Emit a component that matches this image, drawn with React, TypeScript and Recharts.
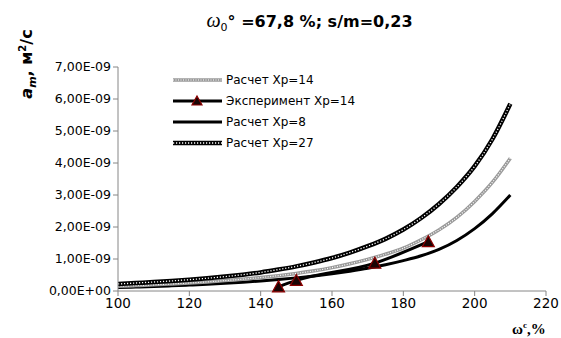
import React from 'react';
import { LineChart, Line, XAxis, YAxis } from 'recharts';

// x values (ω^c, %) for the calculated curves
const xCalc = [100, 105, 110, 115, 120, 125, 130, 135, 140, 145, 150, 155, 160, 165, 170, 175, 180, 185, 190, 195, 200, 205, 210];
// a_m values in units of 1E-09 m²/s
const raschet8 = [0.11, 0.125, 0.143, 0.163, 0.186, 0.212, 0.242, 0.276, 0.315, 0.36, 0.41, 0.47, 0.54, 0.62, 0.71, 0.82, 0.95, 1.1, 1.3, 1.58, 1.95, 2.42, 3.0];
const raschet14 = [0.15, 0.17, 0.193, 0.22, 0.25, 0.285, 0.325, 0.37, 0.42, 0.48, 0.55, 0.63, 0.73, 0.85, 0.99, 1.15, 1.34, 1.6, 1.91, 2.3, 2.8, 3.4, 4.15];
const raschet27 = [0.22, 0.25, 0.28, 0.315, 0.355, 0.4, 0.45, 0.51, 0.58, 0.67, 0.77, 0.89, 1.03, 1.2, 1.4, 1.63, 1.92, 2.28, 2.72, 3.25, 3.9, 4.75, 5.85];
const expX = [145, 150, 172, 187];
const expY = [0.13, 0.33, 0.87, 1.54];

const xTicks = [100, 120, 140, 160, 180, 200, 220];
const yTicks = [0, 1, 2, 3, 4, 5, 6, 7];
const legendLabels = ['Расчет Хр=14', 'Эксперимент Хр=14', 'Расчет Хр=8', 'Расчет Хр=27'];

const calcData = xCalc.map((x, i) => ({ x, p8: raschet8[i], p14: raschet14[i], p27: raschet27[i] }));
const expData = expX.map((x, i) => ({ x, e: expY[i] }));

const fmtY = (v: number) => (v === 0 ? '0,00E+00' : v.toFixed(2).replace('.', ',') + 'E-09');

const Triangle = (props: any) => {
  const { cx, cy, index } = props;
  if (cx == null || cy == null) return null;
  return (
    <path
      key={`tri-${index}`}
      d={`M${cx},${cy - 6} L${cx + 6},${cy + 5} L${cx - 6},${cy + 5} Z`}
      fill="#1a0505"
      stroke="#8b0000"
      strokeWidth={1.2}
    />
  );
};

const LegendBox = () => {
  const rowH = 21;
  return (
    <div style={{ position: 'absolute', left: 170, top: 72, width: 200, height: 90, fontFamily: 'DejaVu Sans', fontSize: 12, color: '#000' }}>
      {legendLabels.map((label, i) => (
        <div key={label} style={{ position: 'absolute', left: 0, top: i * rowH, height: 16, display: 'flex', alignItems: 'center', whiteSpace: 'nowrap' }}>
          <svg width={54} height={16} style={{ display: 'block' }}>
            {i === 0 && (
              <>
                <line x1={3} y1={8} x2={52} y2={8} stroke="#9a9a9a" strokeWidth={3.5} />
                <line x1={3} y1={8} x2={52} y2={8} stroke="#ffffff" strokeWidth={1.2} strokeDasharray="1 1.5" />
              </>
            )}
            {i === 1 && (
              <>
                <line x1={3} y1={8} x2={52} y2={8} stroke="#000" strokeWidth={3} />
                <path d="M27,3 L32,12 L22,12 Z" fill="#1a0505" stroke="#8b0000" strokeWidth={1.2} />
              </>
            )}
            {i === 2 && <line x1={3} y1={8} x2={52} y2={8} stroke="#000" strokeWidth={3} />}
            {i === 3 && (
              <>
                <line x1={3} y1={8} x2={52} y2={8} stroke="#000" strokeWidth={4.5} />
                <line x1={3} y1={8} x2={52} y2={8} stroke="#ffffff" strokeWidth={1.3} strokeDasharray="1.2 1.8" />
              </>
            )}
          </svg>
          <span style={{ marginLeft: 2 }}>{label}</span>
        </div>
      ))}
    </div>
  );
};

export default function App() {
  return (
    <div style={{ position: 'absolute', left: 0, top: 0, width: 561, height: 338, background: '#fff', overflow: 'hidden' }}>
      <LineChart width={561} height={338} margin={{ top: 67, right: 15, bottom: 0, left: 0 }}>
        <XAxis
          type="number"
          dataKey="x"
          domain={[100, 220]}
          ticks={xTicks}
          interval={0}
          allowDataOverflow
          height={47}
          stroke="#868686"
          tickSize={5}
          tick={{ fontFamily: 'DejaVu Sans', fontSize: 13.5, fill: '#000' }}
        />
        <YAxis
          type="number"
          domain={[0, 7]}
          ticks={yTicks}
          interval={0}
          width={118}
          stroke="#868686"
          tickSize={5}
          tickFormatter={fmtY}
          tick={{ fontFamily: 'DejaVu Sans', fontSize: 12.5, fill: '#000' }}
        />
        <Line data={calcData} dataKey="p8" type="monotone" stroke="#000" strokeWidth={3} dot={false} isAnimationActive={false} />
        <Line data={calcData} dataKey="p14" type="monotone" stroke="#9a9a9a" strokeWidth={3.5} dot={false} isAnimationActive={false} />
        <Line data={calcData} dataKey="p14" type="monotone" stroke="#ffffff" strokeWidth={1.2} strokeDasharray="1 1.5" dot={false} isAnimationActive={false} />
        <Line data={expData} dataKey="e" type="monotone" stroke="#000" strokeWidth={3} dot={<Triangle />} isAnimationActive={false} />
        <Line data={calcData} dataKey="p27" type="monotone" stroke="#000" strokeWidth={4.5} dot={false} isAnimationActive={false} />
        <Line data={calcData} dataKey="p27" type="monotone" stroke="#ffffff" strokeWidth={1.3} strokeDasharray="1.2 1.8" dot={false} isAnimationActive={false} />
      </LineChart>
      <LegendBox />
      <div style={{ position: 'absolute', left: 0, width: 561, top: 9, textAlign: 'center', paddingLeft: 58, boxSizing: 'border-box', fontFamily: 'DejaVu Sans', fontWeight: 'bold', fontSize: 16 }}>
        <span style={{ fontFamily: 'Liberation Serif', fontStyle: 'italic', fontWeight: 'normal', fontSize: 20 }}>ω</span>
        <sub style={{ fontSize: 11, fontWeight: 'normal' }}>0</sub>° =67,8 %; s/m=0,23
      </div>
      <div style={{ position: 'absolute', left: 28, top: 64, width: 0, height: 0 }}>
        <div style={{ position: 'absolute', left: 0, top: 0, transform: 'translate(-50%, -50%) rotate(-90deg)', whiteSpace: 'nowrap', fontFamily: 'DejaVu Sans', fontWeight: 'bold', fontSize: 16 }}>
          <span style={{ fontStyle: 'italic' }}>a</span><sub style={{ fontSize: 11, fontStyle: 'italic' }}>m</sub>, м<sup style={{ fontSize: 10 }}>2</sup>/с
        </div>
      </div>
      <div style={{ position: 'absolute', left: 512, top: 320, fontFamily: 'Liberation Serif', fontWeight: 'bold', fontSize: 15, whiteSpace: 'nowrap' }}>
        ω<sup style={{ fontSize: 9 }}>c</sup>,%
      </div>
    </div>
  );
}
